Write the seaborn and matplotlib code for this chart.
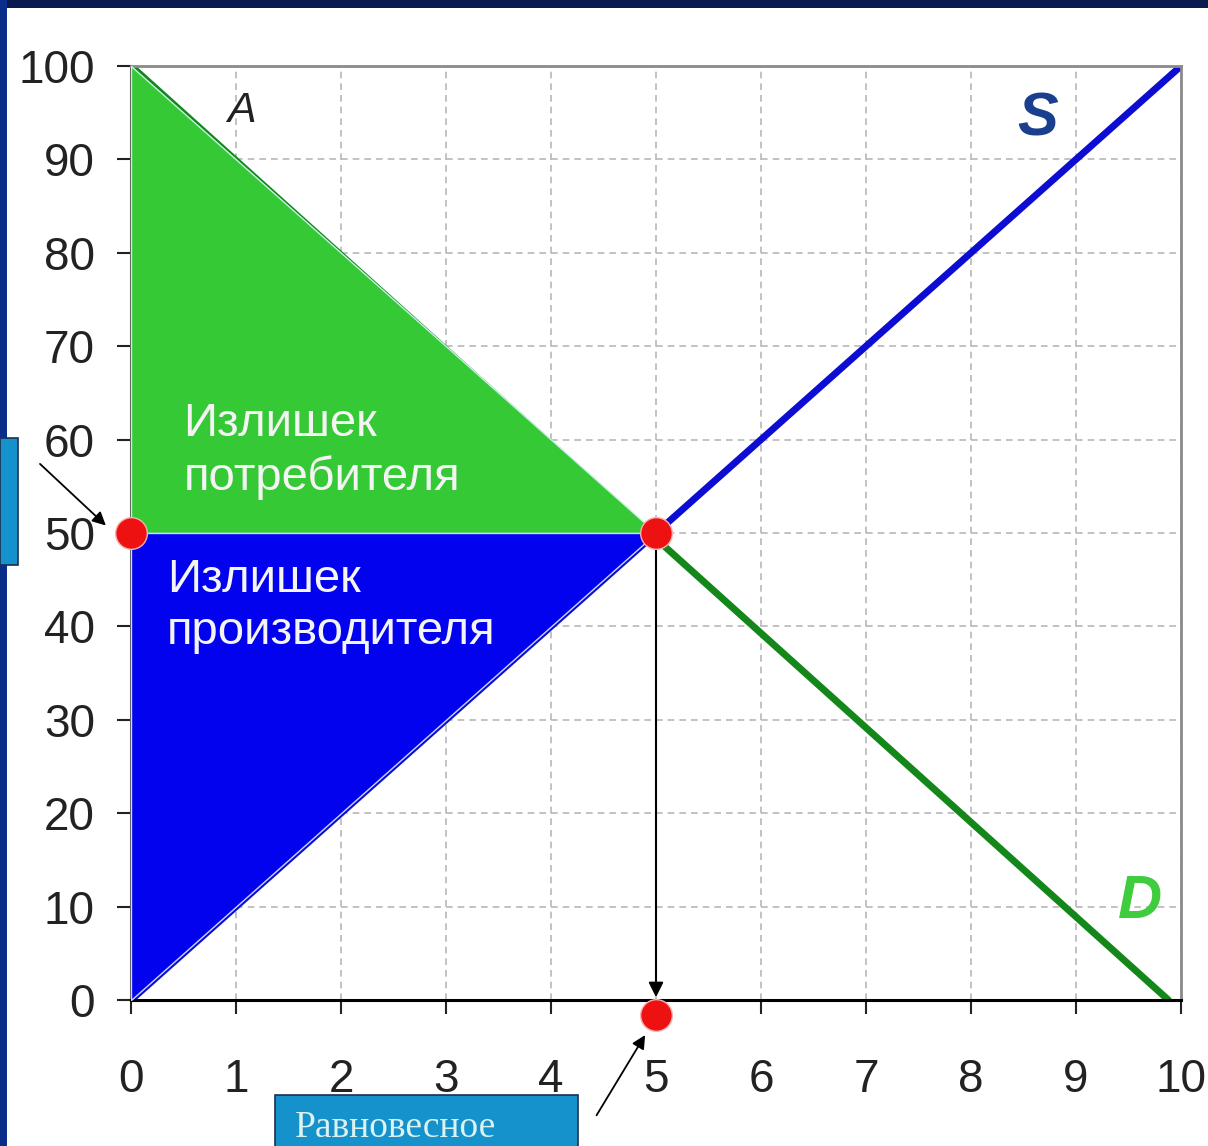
import matplotlib
matplotlib.use("Agg")
import numpy as np
import pandas as pd
import matplotlib.pyplot as plt
from matplotlib.patches import Rectangle
import seaborn as sns

# supply / demand lines
q_supply = [0, 10]
p_supply = [0, 100]
q_demand = [0, 9.88]
p_demand = [100, 0]

# equilibrium
eq_q = 5
eq_p = 50

# surplus triangles
cs_q = [0, 5]
cs_top = [100, 50]
ps_q = [0, 5]
ps_bottom = [0, 50]

# red markers (price axis, equilibrium, quantity axis)
dots_q = [0, 5, 5]
dots_p = [50, 50, -1.6]

x_ticks = list(range(0, 11))
y_ticks = list(range(0, 101, 10))

sns.set_theme(style="white")
plt.rcParams['font.family'] = ['Liberation Sans', 'DejaVu Sans']

fig = plt.figure(figsize=(12.08, 11.46), dpi=100)
fig.patch.set_facecolor("white")
ax = fig.add_axes([131 / 1208, 1 - 1000 / 1146, 1050 / 1208, 934 / 1146])

df_s = pd.DataFrame({"Q": q_supply, "P": p_supply})
df_d = pd.DataFrame({"Q": q_demand, "P": p_demand})

sns.lineplot(data=df_d, x="Q", y="P", color="#13871a", linewidth=5, ax=ax, zorder=2)
sns.lineplot(data=df_s, x="Q", y="P", color="#0c0cd2", linewidth=5, ax=ax, zorder=2)

ax.fill_between(cs_q, [eq_p, eq_p], cs_top, color="#35c935", edgecolor="#c8f0e8", linewidth=1, zorder=3)
ax.fill_between(ps_q, ps_bottom, [eq_p, eq_p], color="#0202ee", edgecolor="#c8d8ff", linewidth=1, zorder=3)

ax.annotate("", xy=(eq_q, 0), xytext=(eq_q, eq_p),
            arrowprops=dict(arrowstyle="-|>", color="black", lw=1.5, mutation_scale=22), zorder=4)

sns.scatterplot(x=dots_q, y=dots_p, s=520, color="#ee1111", edgecolor="#f8b0b0", linewidth=1,
                ax=ax, zorder=6, clip_on=False)

ax.text(0.5, 58.8, "Излишек\nпотребителя", color="#f4f4f4", fontsize=34,
        ha="left", va="center", linespacing=1.25, zorder=5)
ax.text(0.34, 42.2, "Излишек\nпроизводителя", color="#f4f4f4", fontsize=34,
        ha="left", va="center", linespacing=1.25, zorder=5)

ax.text(1.05, 95.2, "A", fontsize=31, style="italic", color="#222222", ha="center", va="center")
ax.text(8.63, 94.2, "S", fontsize=44, style="italic", weight="bold", color="#1a3f8f", ha="center", va="center")
ax.text(9.61, 10.4, "D", fontsize=44, style="italic", weight="bold", color="#3fcc3f", ha="center", va="center")

# pointer arrows outside the plot
ax.annotate("", xy=(4.91, -3.5), xytext=(4.42, -12.6), annotation_clip=False,
            arrowprops=dict(arrowstyle="-|>", color="black", lw=1.3, mutation_scale=20))
ax.annotate("", xy=(-0.22, 50.6), xytext=(-0.886, 57.6), annotation_clip=False,
            arrowprops=dict(arrowstyle="-|>", color="black", lw=1.3, mutation_scale=20))

ax.set_xlim(0, 10)
ax.set_ylim(0, 100)
ax.set_xticks(x_ticks)
ax.set_yticks(y_ticks)
ax.set_xlabel("")
ax.set_ylabel("")
ax.grid(True, color="#b8b8b8", linestyle=(0, (4, 3)), linewidth=1.2)
ax.set_axisbelow(True)
ax.tick_params(axis="both", which="both", direction="out", length=10, width=1.5,
               colors="#222222", labelsize=33, left=True, bottom=True)
ax.tick_params(axis="x", pad=32)
ax.tick_params(axis="y", pad=16)

for side in ["top", "right"]:
    ax.spines[side].set_color("#8a8a8a")
    ax.spines[side].set_linewidth(2)
ax.spines["left"].set_color("#666666")
ax.spines["left"].set_linewidth(1.5)
ax.spines["bottom"].set_color("black")
ax.spines["bottom"].set_linewidth(2.2)

# slide decoration: navy frame and blue label boxes
fig.patches.append(Rectangle((0, 1 - 8 / 1146), 1, 8 / 1146, transform=fig.transFigure,
                             facecolor="#0a1a4e", edgecolor="none", zorder=0))
fig.patches.append(Rectangle((0, 0), 7 / 1208, 1, transform=fig.transFigure,
                             facecolor="#0b2d8a", edgecolor="none", zorder=0))
fig.patches.append(Rectangle((0, 1 - 565 / 1146), 18 / 1208, 127 / 1146, transform=fig.transFigure,
                             facecolor="#1592cc", edgecolor="#1a3050", linewidth=1.2, zorder=1))
fig.patches.append(Rectangle((275 / 1208, -0.01), 303 / 1208, 51 / 1146 + 0.01, transform=fig.transFigure,
                             facecolor="#1592cc", edgecolor="#1a3050", linewidth=1.2, zorder=1))
fig.text(295 / 1208, 0.001, "Равновесное", fontsize=27, color="#dcf2f0",
         family=["Liberation Serif", "DejaVu Serif"], ha="left", va="bottom")

fig.savefig("out.png", dpi=100)
